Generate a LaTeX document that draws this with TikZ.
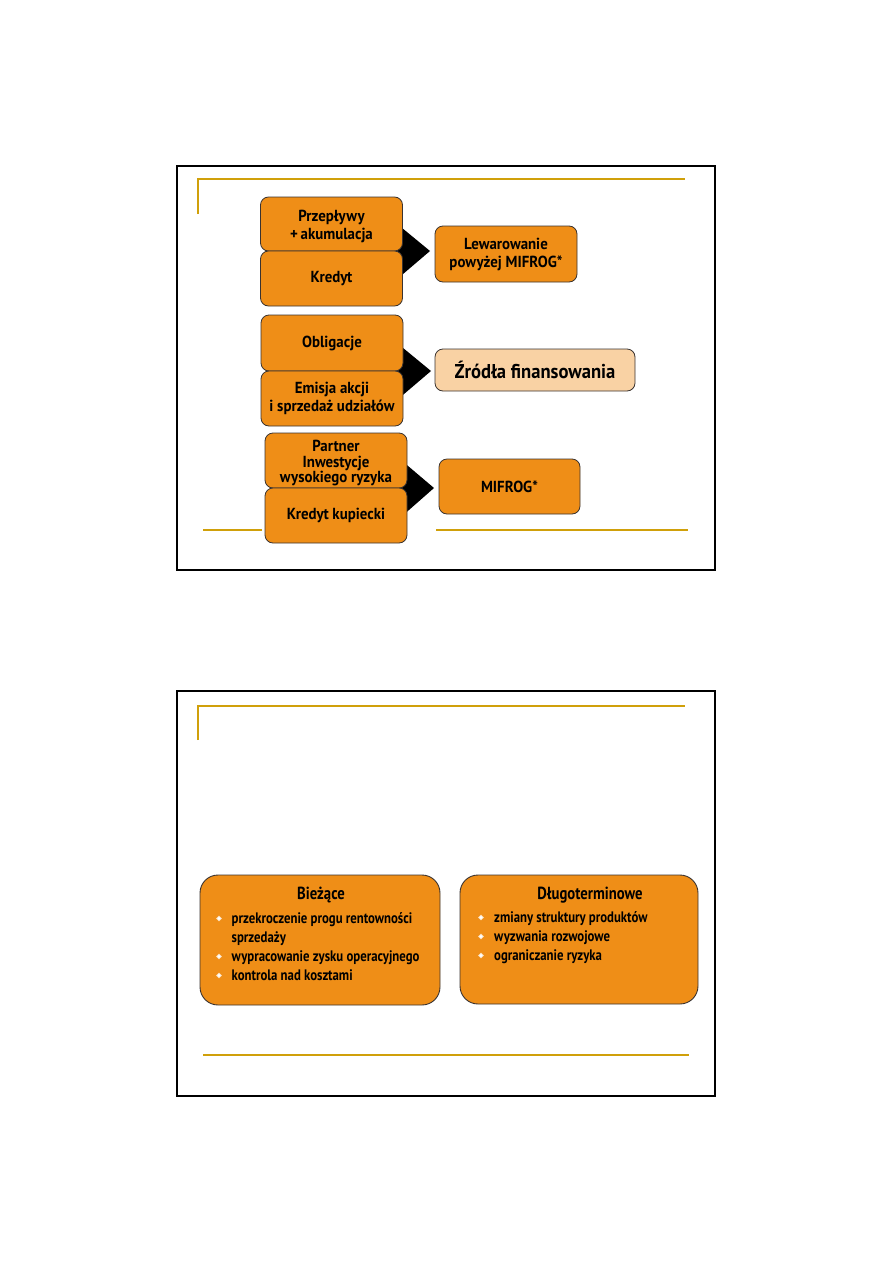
\documentclass[tikz,border=0pt]{standalone}
\usetikzlibrary{shapes.geometric}
\usepackage{fontspec}
\setmainfont{PT Sans}
\newfontfamily\boxfont[FakeStretch=0.93]{PT Sans}
\newfontfamily\condfont[FakeStretch=0.84]{PT Sans}
\definecolor{orangef}{HTML}{EF8E17}
\definecolor{peach}{HTML}{F9D2A4}
\definecolor{boxline}{HTML}{3A3330}
\definecolor{goldline}{HTML}{D0A00A}
\begin{document}
\begin{tikzpicture}[x=1pt,y=-1pt,
  frame/.style={draw=black,line width=2pt},
  gold/.style={draw=goldline,line width=1.3pt},
  ob/.style={draw=boxline,line width=0.8pt,fill=orangef,rounded corners=8pt,
    align=center,inner sep=0pt,minimum width=142pt,
    font=\boxfont\bfseries\fontsize{16}{18}\selectfont},
  chev/.style={fill=black},
  bigbox/.style={draw=boxline,line width=0.9pt,fill=orangef,rounded corners=18pt,inner sep=0pt},
  ttl/.style={font=\condfont\bfseries\fontsize{17.5}{20}\selectfont,inner sep=0pt},
  item/.style={anchor=base west,font=\condfont\bfseries\fontsize{15.2}{18}\selectfont,inner sep=0pt},
  dot/.style={fill=white,draw=white!70!orangef,line width=0.6pt,diamond,inner sep=0pt,minimum size=5pt}
]
\useasboundingbox (0,0) rectangle (893,1263);
% ---------- slide 1 ----------
\draw[frame] (177,166) rectangle (715,570);
\draw[gold] (198,214) -- (198,179) -- (685,179);
\draw[gold] (203,530) -- (262,530);
\draw[gold] (436,530) -- (688,530);

% chevrons (behind boxes)
\coordinate (c1a) at (396,223);
\coordinate (c1t) at (430,251);
\coordinate (c1b) at (396,280);
\fill[chev] (c1a) -- (c1t) -- (c1b) -- cycle;
\coordinate (c2a) at (397,343);
\coordinate (c2t) at (431,371);
\coordinate (c2b) at (397,400);
\fill[chev] (c2a) -- (c2t) -- (c2b) -- cycle;
\coordinate (c3a) at (401,460);
\coordinate (c3t) at (434,488);
\coordinate (c3b) at (401,517);
\fill[chev] (c3a) -- (c3t) -- (c3b) -- cycle;

\node[ob,minimum height=54pt] (p1) at (331.5,224) {};
\node[align=center,inner sep=0pt,font=\boxfont\bfseries\fontsize{16}{18}\selectfont] (p1t) at (331.5,226) {Przepływy\\+\,akumulacja};
\node[ob,minimum height=55pt] (p2) at (331.5,278.5) {Kredyt};
\node[ob,minimum height=56pt] (t1) at (506,254) {Lewarowanie\\powyżej MIFROG*};

\node[ob,minimum height=56pt] (q1) at (332,343) {Obligacje};
\node[ob,minimum height=55pt] (q2) at (332,398.5) {Emisja akcji\\i sprzedaż udziałów};
\node[ob,fill=peach,minimum width=200pt,minimum height=42pt,
  font=\boxfont\bfseries\fontsize{20}{22}\selectfont] (t2) at (535,370) {Źródła finansowania};

\node[ob,minimum height=55pt] (r1) at (336,460.5) {};
\node[align=center,inner sep=0pt,font=\boxfont\bfseries\fontsize{16}{15.5}\selectfont] (r1t) at (336,463.5) {Partner\\Inwestycje\\wysokiego ryzyka};
\node[ob,minimum height=55pt] (r2) at (336,515.5) {Kredyt kupiecki};
\node[ob,minimum width=141pt,minimum height=55pt] (t3) at (509.5,486.5) {MIFROG*};

% ---------- slide 2 ----------
\draw[frame] (177,691) rectangle (715,1096);
\draw[gold] (198,740) -- (198,706) -- (685,706);
\draw[gold] (203,1055) -- (689,1055);

\node[bigbox,minimum width=240pt,minimum height=130pt] (b1) at (320,940) {};
\node[bigbox,minimum width=238pt,minimum height=129pt] (b2) at (579,939.5) {};

\node[ttl] (b1t) at (321,895) {Bieżące};
\node[dot] (b1d1) at (219,918.5) {};
\node[item] (b1l1) at (231.5,923.5) {przekroczenie progu rentowności};
\node[item] (b1l2) at (231.5,942.5) {sprzedaży};
\node[dot] (b1d3) at (219,956.5) {};
\node[item] (b1l3) at (231.5,961.5) {wypracowanie zysku operacyjnego};
\node[dot] (b1d4) at (219,975.5) {};
\node[item] (b1l4) at (231.5,980.5) {kontrola nad kosztami};

\node[ttl] (b2t) at (590,895) {Długoterminowe};
\node[dot] (b2d1) at (481,917.5) {};
\node[item] (b2l1) at (494,922.5) {zmiany struktury produktów};
\node[dot] (b2d2) at (481,936.5) {};
\node[item] (b2l2) at (494,941.5) {wyzwania rozwojowe};
\node[dot] (b2d3) at (481,955.5) {};
\node[item] (b2l3) at (494,960.5) {ograniczanie ryzyka};
\end{tikzpicture}
\end{document}
